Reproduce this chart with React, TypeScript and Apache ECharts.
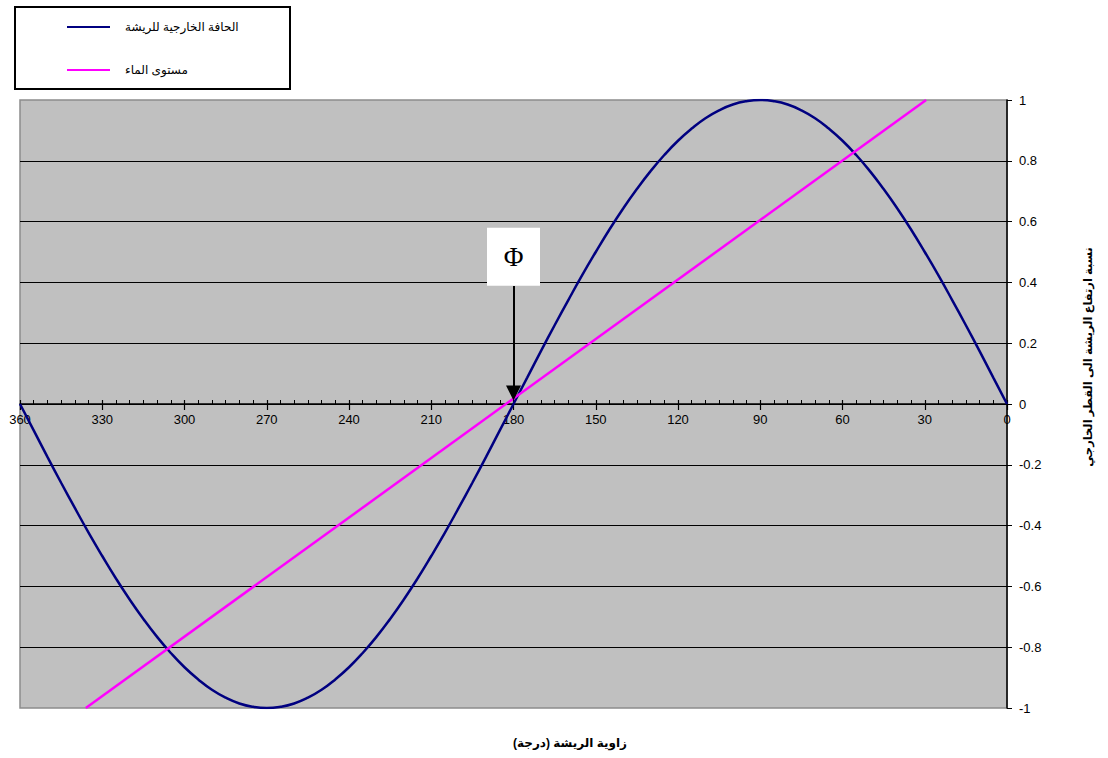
import React, { useEffect, useRef } from "react";
import * as echarts from "echarts";

const angles: number[] = [0, 5, 10, 15, 20, 25, 30, 35, 40, 45, 50, 55, 60, 65, 70, 75, 80, 85, 90, 95, 100, 105, 110, 115, 120, 125, 130, 135, 140, 145, 150, 155, 160, 165, 170, 175, 180, 185, 190, 195, 200, 205, 210, 215, 220, 225, 230, 235, 240, 245, 250, 255, 260, 265, 270, 275, 280, 285, 290, 295, 300, 305, 310, 315, 320, 325, 330, 335, 340, 345, 350, 355, 360];
const edgeValues: number[] = [0, 0.087, 0.174, 0.259, 0.342, 0.423, 0.5, 0.574, 0.643, 0.707, 0.766, 0.819, 0.866, 0.906, 0.94, 0.966, 0.985, 0.996, 1, 0.996, 0.985, 0.966, 0.94, 0.906, 0.866, 0.819, 0.766, 0.707, 0.643, 0.574, 0.5, 0.423, 0.342, 0.259, 0.174, 0.087, 0, -0.087, -0.174, -0.259, -0.342, -0.423, -0.5, -0.574, -0.643, -0.707, -0.766, -0.819, -0.866, -0.906, -0.94, -0.966, -0.985, -0.996, -1, -0.996, -0.985, -0.966, -0.94, -0.906, -0.866, -0.819, -0.766, -0.707, -0.643, -0.574, -0.5, -0.423, -0.342, -0.259, -0.174, -0.087, 0];
const waterAngles: number[] = [29.5, 336];
const waterValues: number[] = [1, -1];

const seriesNames: string[] = ["الحافة الخارجية للريشة", "مستوى الماء"];
const xTitle = "زاوية الريشة (درجة)";
const yTitle = "نسبة ارتفاع الريشة الى القطر الخارجي";
const phiLabel = "Φ";
const phiAngle = 180;
const phiBoxValue = 0.484;
const arrowStart = 0.388;
const arrowEnd = 0.036;

const FONT = "'Liberation Sans', 'DejaVu Sans', Arial, sans-serif";

export default function App() {
  const ref = useRef<HTMLDivElement>(null);
  useEffect(() => {
    if (!ref.current) return;
    const chart = echarts.init(ref.current, undefined, { renderer: "svg" });
    const edgeData = angles.map((a, i) => [a, edgeValues[i]]);
    const waterData = waterAngles.map((a, i) => [a, waterValues[i]]);
    chart.setOption({
      animation: false,
      textStyle: { fontFamily: FONT },
      grid: [
        {
          left: 20,
          right: 101,
          top: 100,
          bottom: 50,
          show: true,
          backgroundColor: "#C0C0C0",
          borderColor: "#8c8c8c",
          borderWidth: 1.5,
        },
        {
          left: 20,
          right: 101,
          top: 100,
          bottom: 354,
          show: false,
        },
      ],
      legend: {
        orient: "vertical",
        left: 62,
        top: 16,
        itemGap: 31,
        itemWidth: 43,
        itemHeight: 2,
        icon: "rect",
        z: 10,
        textStyle: { fontSize: 12, color: "#000", fontFamily: FONT, padding: [0, 0, 0, 10] },
        data: seriesNames,
      },
      graphic: [
        {
          type: "rect",
          z: 0,
          shape: { x: 15, y: 7, width: 275, height: 82 },
          style: { fill: "#fff", stroke: "#000", lineWidth: 2 },
        },
        {
          type: "text",
          x: 570,
          y: 743,
          style: {
            text: xTitle,
            font: `bold 12px ${FONT}`,
            fill: "#000",
            textAlign: "center",
            textVerticalAlign: "middle",
          },
        },
        {
          type: "text",
          x: 1088,
          y: 357,
          rotation: Math.PI / 2,
          style: {
            text: yTitle,
            font: `bold 11.5px ${FONT}`,
            fill: "#000",
            textAlign: "center",
            textVerticalAlign: "middle",
          },
        },
      ],
      xAxis: [
        {
          type: "value",
          gridIndex: 0,
          min: 0,
          max: 360,
          interval: 30,
          inverse: true,
          show: false,
        },
        {
          type: "value",
          gridIndex: 1,
          min: 0,
          max: 360,
          interval: 30,
          inverse: true,
          position: "bottom",
          axisLine: { show: true, onZero: false, lineStyle: { color: "#000", width: 1.5 } },
          axisTick: { show: true, inside: false, length: 6, lineStyle: { color: "#000", width: 1.2 } },
          minorTick: { show: false },
          splitLine: { show: false },
          axisLabel: {
            show: true,
            color: "#000",
            fontSize: 13,
            margin: 9,
            showMinLabel: true,
            showMaxLabel: true,
            fontFamily: FONT,
          },
        },
        {
          type: "value",
          gridIndex: 1,
          min: 0,
          max: 360,
          interval: 30,
          inverse: true,
          position: "bottom",
          axisLine: { show: false, onZero: false },
          axisTick: { show: true, inside: true, length: 4, lineStyle: { color: "#000", width: 1.2 } },
          minorTick: { show: true, splitNumber: 6, length: 4, lineStyle: { color: "#000", width: 1 } },
          splitLine: { show: false },
          axisLabel: { show: false },
        },
      ],
      yAxis: [
        {
          type: "value",
          gridIndex: 0,
          min: -1,
          max: 1,
          interval: 0.2,
          position: "right",
          axisLine: { show: true, onZero: false, lineStyle: { color: "#000", width: 1.5 } },
          axisTick: { show: true, inside: false, length: 5, lineStyle: { color: "#000" } },
          splitLine: {
            show: true,
            showMinLine: false,
            showMaxLine: false,
            lineStyle: { color: "#000", width: 1.2 },
          },
          axisLabel: {
            color: "#000",
            fontSize: 13,
            margin: 12,
            fontFamily: FONT,
            formatter: (v: number) => String(Math.round(v * 10) / 10),
          },
        },
        {
          type: "value",
          gridIndex: 1,
          min: 0,
          max: 1,
          show: false,
        },
      ],
      series: [
        {
          name: seriesNames[0],
          type: "line",
          xAxisIndex: 0,
          yAxisIndex: 0,
          data: edgeData,
          smooth: true,
          showSymbol: false,
          symbol: "none",
          lineStyle: { color: "#000080", width: 2.5 },
          itemStyle: { color: "#000080" },
          z: 3,
        },
        {
          name: seriesNames[1],
          type: "line",
          xAxisIndex: 0,
          yAxisIndex: 0,
          data: waterData,
          showSymbol: false,
          symbol: "none",
          lineStyle: { color: "#FF00FF", width: 2.5 },
          itemStyle: { color: "#FF00FF" },
          z: 4,
          markLine: {
            silent: true,
            symbol: ["none", "triangle"],
            symbolSize: 15,
            label: { show: false },
            lineStyle: { color: "#000", width: 2, type: "solid" },
            data: [[{ coord: [phiAngle, arrowStart] }, { coord: [phiAngle, arrowEnd] }]],
          },
          markPoint: {
            silent: true,
            symbol: "rect",
            symbolSize: [53, 58],
            itemStyle: { color: "#fff" },
            label: {
              show: true,
              formatter: phiLabel,
              color: "#000",
              fontSize: 27,
              fontFamily: "'Liberation Serif', 'DejaVu Serif', serif",
              position: "inside",
            },
            data: [{ coord: [phiAngle, phiBoxValue] }],
          },
        },
      ],
    });
    return () => chart.dispose();
  }, []);
  return (
    <div
      ref={ref}
      style={{ position: "absolute", left: 0, top: 0, width: 1108, height: 758 }}
    />
  );
}
